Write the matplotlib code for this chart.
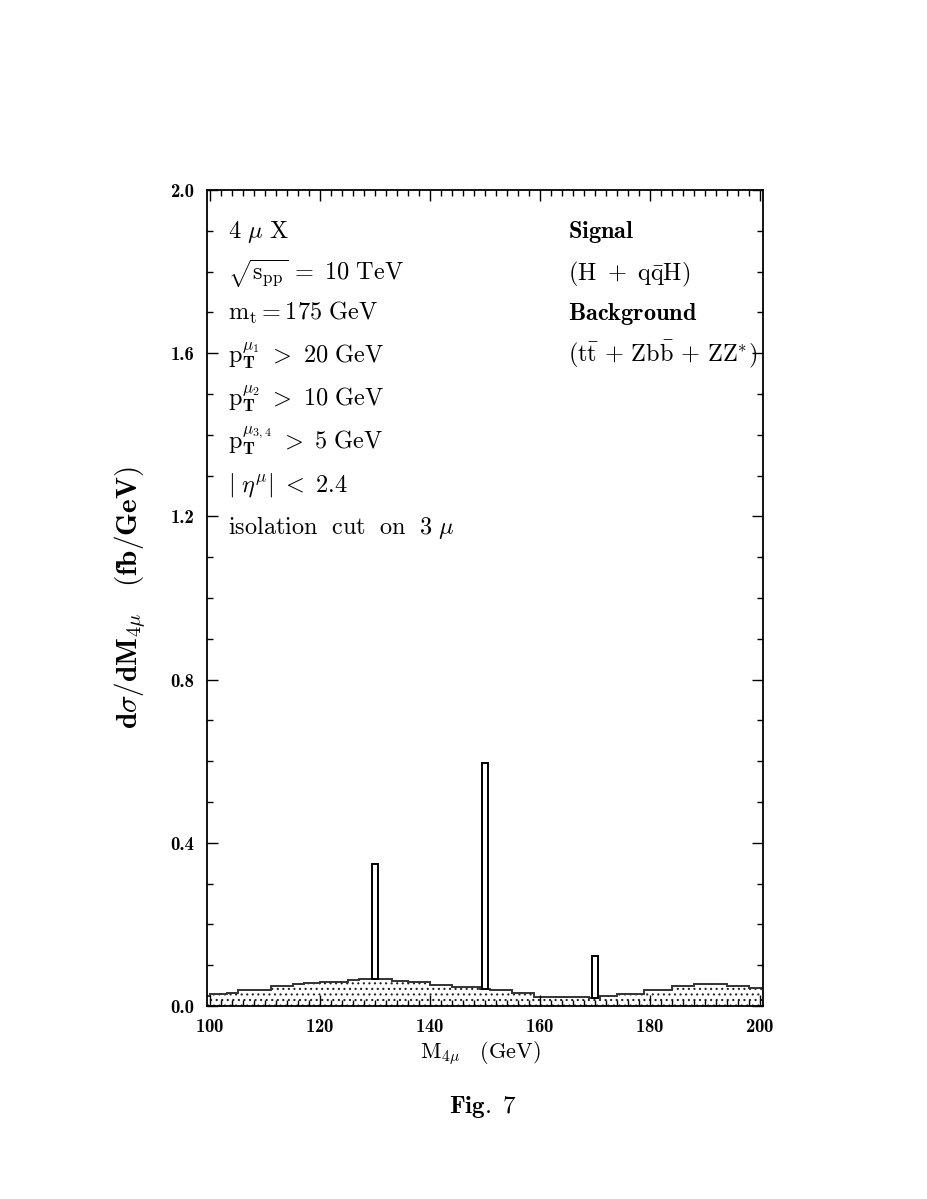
import numpy as np
import matplotlib
matplotlib.use('Agg')
import matplotlib.pyplot as plt

# background (tt + Zbb + ZZ*), stepped histogram
bg_edges = [99.5, 100, 103, 105, 111, 115, 117, 120, 125, 127, 133, 136, 140,
            144, 149, 151, 155, 159, 169, 171, 174, 179, 184, 188, 194, 198, 200.5]
bg_vals = [0.024, 0.030, 0.033, 0.040, 0.050, 0.053, 0.056, 0.060, 0.063,
           0.066, 0.062, 0.058, 0.052, 0.046, 0.042, 0.038, 0.031, 0.022,
           0.020, 0.024, 0.029, 0.040, 0.048, 0.054, 0.050, 0.043]

# signal peaks (total height, signal + background)
sig_mass = [130, 150, 170]
sig_total = [0.348, 0.596, 0.123]
sig_width = 1.0

left_text = [r'$4\ \mu\ \mathrm{X}$',
             r'$\sqrt{\mathrm{s}_{\mathrm{pp}}}\,\mathbf{=}\ \mathrm{10\ TeV}$',
             r'$\mathrm{m}_{\mathrm{t}} = \mathrm{175\ GeV}$',
             r'$\mathrm{p}_{\mathbf{T}}^{\mu_1}\ >\ \mathrm{20\ GeV}$',
             r'$\mathrm{p}_{\mathbf{T}}^{\mu_2}\ >\ \mathrm{10\ GeV}$',
             r'$\mathrm{p}_{\mathbf{T}}^{\mu_{3,4}}\ >\ \mathrm{5\ GeV}$',
             r'$|\ \eta^{\mu}|\ <\ \mathrm{2.4}$',
             r'$\mathrm{isolation\ \ cut\ \ on\ \ 3}\ \mu$']
right_text = [r'$\mathbf{Signal}$',
              r'$(\mathrm{H}\ +\ \mathrm{q}\bar{\mathrm{q}}\mathrm{H})$',
              r'$\mathbf{Background}$',
              r'$(\mathrm{t}\bar{\mathrm{t}}\,+\,\mathrm{Zb}\bar{\mathrm{b}}\,+\,\mathrm{ZZ}^{*})$']
text_rows = [238, 280, 320, 362, 405, 448, 491, 534]   # pixel baselines

plt.rcParams['mathtext.fontset'] = 'cm'
plt.rcParams['font.family'] = 'cmr10'
plt.rcParams['axes.formatter.use_mathtext'] = True
plt.rcParams['hatch.linewidth'] = 0.8

fig = plt.figure(figsize=(9.27, 11.99), dpi=100)
ax = fig.add_axes([207/927, 193/1199, 556/927, 816/1199])

ax.stairs(bg_vals, bg_edges, fill=True, facecolor='white', edgecolor='#222222',
          hatch='...', lw=0)
ax.stairs(bg_vals, bg_edges, baseline=None, color='#333333', lw=1.4)

bottoms = []
for m in sig_mass:
    i = np.searchsorted(bg_edges, m, side='right') - 1
    bottoms.append(bg_vals[i])
bottoms = np.array(bottoms)
ax.bar(sig_mass, np.array(sig_total) - bottoms, width=sig_width, bottom=bottoms,
       facecolor='white', edgecolor='black', lw=1.4, zorder=3)

ax.set_xlim(99.45, 200.55)
ax.set_ylim(0, 2.0)
ax.set_xticks(np.arange(100, 201, 20))
ax.set_xticks(np.arange(100, 201, 2), minor=True)
ax.set_yticks(np.arange(0, 2.01, 0.4))
ax.set_yticks(np.arange(0, 2.01, 0.1), minor=True)
ax.set_yticklabels(['%.1f' % v for v in np.arange(0, 2.01, 0.4)])
ax.tick_params(which='both', direction='in', top=True, right=True,
               width=1.0, colors='black', labelfontfamily='cmb10', labelsize=13.5)
ax.tick_params(which='major', length=8, pad=9)
ax.tick_params(which='minor', length=4)
for s in ax.spines.values():
    s.set_linewidth(1.3)

for k, t in enumerate(left_text):
    ax.text(228/927, 1 - text_rows[k]/1199, t, transform=fig.transFigure,
            fontsize=17.5, ha='left', va='baseline')
for k, t in enumerate(right_text):
    ax.text(568/927, 1 - text_rows[k]/1199, t, transform=fig.transFigure,
            fontsize=17.5, ha='left', va='baseline')

fig.text(130/927, 1 - 598/1199,
         r'$\mathbf{d}\sigma\mathbf{/dM}_{\mathbf{4}\mu}\ \ \ \mathbf{(fb/GeV)}$',
         rotation=90, ha='center', va='center', fontsize=21)
fig.text(480/927, 1 - 1053/1199, r'$\mathrm{M}_{4\mu}\ \ \ \mathrm{(GeV)}$',
         ha='center', va='center', fontsize=16)
fig.text(483/927, 1 - 1107/1199, r'$\mathbf{Fig.\ 7}$',
         ha='center', va='center', fontsize=18)

fig.savefig('out.png', dpi=100, facecolor='white')
